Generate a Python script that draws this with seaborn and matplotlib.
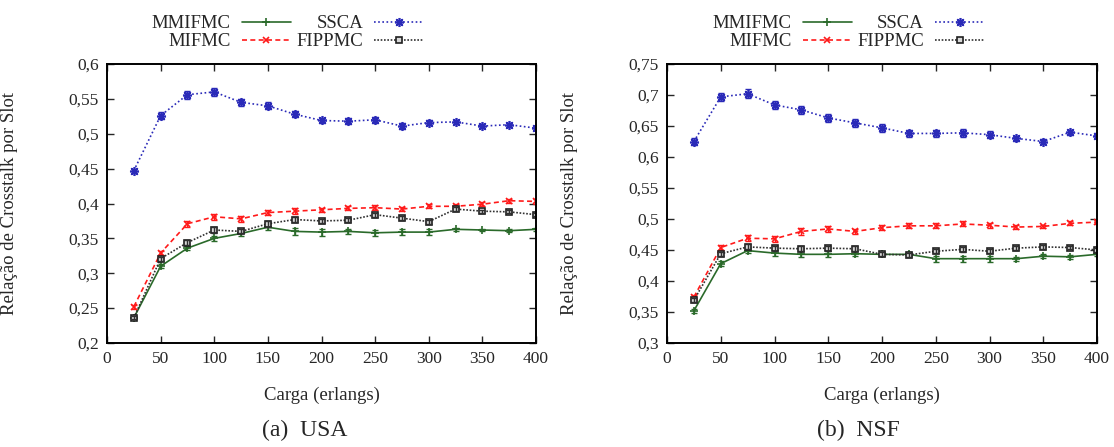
#!/usr/bin/env python3
"""Crosstalk ratio per slot vs. load for the USA and NSF topologies."""

import matplotlib

matplotlib.use("Agg")

import matplotlib.pyplot as plt
import pandas as pd
import seaborn as sns
from matplotlib.lines import Line2D
from matplotlib.ticker import FuncFormatter, MultipleLocator

LOADS = [25, 50, 75, 100, 125, 150, 175, 200, 225, 250, 275, 300, 325, 350, 375, 400]
ALGORITHMS = ["MMIFMC", "MIFMC", "SSCA", "FIPPMC"]
SERIF = ["Liberation Serif", "DejaVu Serif"]

# USA
mmifmc_usa = [0.236, 0.310, 0.336, 0.350, 0.357, 0.366, 0.360, 0.359, 0.360, 0.358, 0.359, 0.359, 0.363, 0.362, 0.361, 0.363]
mifmc_usa = [0.252, 0.329, 0.371, 0.381, 0.378, 0.387, 0.389, 0.391, 0.393, 0.394, 0.392, 0.396, 0.396, 0.399, 0.404, 0.403]
ssca_usa = [0.447, 0.526, 0.556, 0.560, 0.545, 0.540, 0.528, 0.519, 0.518, 0.520, 0.511, 0.516, 0.517, 0.511, 0.513, 0.508]
fippmc_usa = [0.236, 0.321, 0.344, 0.362, 0.360, 0.371, 0.377, 0.375, 0.376, 0.384, 0.379, 0.374, 0.392, 0.389, 0.388, 0.384]

mmifmc_usa_err = [0.002, 0.003, 0.003, 0.004, 0.003, 0.004, 0.005, 0.005, 0.004, 0.004, 0.004, 0.004, 0.002, 0.002, 0.002, 0.002]
mifmc_usa_err = [0.003, 0.003, 0.004, 0.004, 0.004, 0.004, 0.004, 0.003, 0.003, 0.004, 0.003, 0.003, 0.003, 0.003, 0.003, 0.003]
ssca_usa_err = [0.003, 0.005, 0.006, 0.006, 0.005, 0.005, 0.004, 0.004, 0.004, 0.004, 0.004, 0.004, 0.003, 0.003, 0.003, 0.003]
fippmc_usa_err = [0.002, 0.003, 0.003, 0.004, 0.003, 0.004, 0.003, 0.003, 0.003, 0.003, 0.003, 0.003, 0.003, 0.002, 0.002, 0.002]

# NSF
mmifmc_nsf = [0.352, 0.428, 0.449, 0.445, 0.443, 0.443, 0.444, 0.443, 0.443, 0.436, 0.436, 0.436, 0.436, 0.440, 0.439, 0.443]
mifmc_nsf = [0.374, 0.454, 0.469, 0.468, 0.480, 0.484, 0.480, 0.486, 0.489, 0.489, 0.492, 0.490, 0.487, 0.488, 0.493, 0.495]
ssca_nsf = [0.625, 0.697, 0.702, 0.684, 0.676, 0.663, 0.655, 0.647, 0.638, 0.638, 0.639, 0.636, 0.630, 0.625, 0.640, 0.634]
fippmc_nsf = [0.369, 0.444, 0.455, 0.453, 0.452, 0.453, 0.452, 0.443, 0.442, 0.448, 0.451, 0.448, 0.453, 0.455, 0.454, 0.450]

mmifmc_nsf_err = [0.003, 0.004, 0.004, 0.005, 0.005, 0.005, 0.004, 0.003, 0.003, 0.005, 0.005, 0.005, 0.003, 0.003, 0.003, 0.003]
mifmc_nsf_err = [0.004, 0.004, 0.005, 0.005, 0.005, 0.005, 0.004, 0.004, 0.004, 0.004, 0.004, 0.004, 0.003, 0.003, 0.003, 0.003]
ssca_nsf_err = [0.006, 0.006, 0.007, 0.006, 0.006, 0.006, 0.006, 0.006, 0.006, 0.005, 0.006, 0.006, 0.004, 0.004, 0.004, 0.004]
fippmc_nsf_err = [0.003, 0.003, 0.004, 0.004, 0.004, 0.004, 0.004, 0.003, 0.003, 0.003, 0.004, 0.003, 0.003, 0.003, 0.003, 0.003]

STYLES = {
    "MMIFMC": dict(color="#2a6a2a", ls="-", marker="+", ms=6, mfc="#2a6a2a", mec="#2a6a2a"),
    "MIFMC": dict(color="#ff1a1a", ls=(0, (3, 2)), marker="x", ms=5, mfc="#ff1a1a", mec="#ff1a1a"),
    "SSCA": dict(color="#2a2ab8", ls=(0, (1, 1.5)), marker=(8, 2, 0), ms=6.5, mfc="#2a2ab8", mec="#2a2ab8"),
    "FIPPMC": dict(color="#303030", ls=(0, (1, 1)), marker="s", ms=5, mfc="#d8d8d8", mec="#202020"),
}


def long_form(values: dict, errors: dict) -> pd.DataFrame:
    rows = []
    for name in ALGORITHMS:
        for load, val, err in zip(LOADS, values[name], errors[name]):
            rows.append({"algorithm": name, "load": load, "ratio": val, "err": err})
    return pd.DataFrame(rows)


def comma(x, _pos):
    return f"{x:.2f}".rstrip("0").replace(".", ",")


def draw_panel(ax, data, ylim, caption_x, caption):
    for name in ALGORITHMS:
        sub = data[data["algorithm"] == name]
        st = STYLES[name]
        sns.lineplot(
            data=sub, x="load", y="ratio", ax=ax, color=st["color"], linestyle=st["ls"],
            marker=st["marker"], markersize=st["ms"], markerfacecolor=st["mfc"],
            markeredgecolor=st["mec"], markeredgewidth=1.2, linewidth=1.2,
            errorbar=None, legend=False,
        )
        ax.errorbar(sub["load"], sub["ratio"], yerr=sub["err"], fmt="none",
                    ecolor=st["color"], elinewidth=1.0, capsize=2.5, capthick=1.0)
    ax.set_xlim(0, 400)
    ax.set_ylim(*ylim)
    ax.xaxis.set_major_locator(MultipleLocator(50))
    ax.yaxis.set_major_locator(MultipleLocator(0.05))
    ax.yaxis.set_major_formatter(FuncFormatter(comma))
    ax.tick_params(direction="in", length=5, width=1.0, top=True, right=True, labelsize=12.5, pad=6)
    for lab in ax.get_xticklabels() + ax.get_yticklabels():
        lab.set_fontfamily(SERIF)
    for sp in ax.spines.values():
        sp.set_visible(True)
        sp.set_linewidth(1.4)
        sp.set_color("black")
    ax.set_xlabel("Carga (erlangs)", fontsize=13.5)
    ax.set_ylabel("Relação de Crosstalk por Slot", fontsize=13.5)
    ax.xaxis.set_label_coords(0.5, -0.158)
    ax.yaxis.set_label_coords(-0.207, 0.5)

    handles = []
    for name in ALGORITHMS:
        st = STYLES[name]
        handles.append(Line2D([], [], color=st["color"], ls=st["ls"], marker=st["marker"],
                              ms=st["ms"], mfc=st["mfc"], mec=st["mec"], mew=1.2, lw=1.2))
    ax.legend(handles, ALGORITHMS, ncol=2, loc="upper right", bbox_to_anchor=(0.737, 1.175),
              frameon=False, markerfirst=False, numpoints=1, fontsize=13.5, handlelength=2.6,
              handletextpad=0.6, columnspacing=0.3, labelspacing=0.05, borderpad=0,
              borderaxespad=0)
    ax.figure.text(caption_x, 1 - 430 / 447, caption, ha="center", va="center", fontsize=17)


def main() -> int:
    sns.set_style("ticks")
    plt.rcParams["font.family"] = SERIF
    plt.rcParams["font.serif"] = SERIF

    usa = long_form(
        {"MMIFMC": mmifmc_usa, "MIFMC": mifmc_usa, "SSCA": ssca_usa, "FIPPMC": fippmc_usa},
        {"MMIFMC": mmifmc_usa_err, "MIFMC": mifmc_usa_err, "SSCA": ssca_usa_err, "FIPPMC": fippmc_usa_err},
    )
    nsf = long_form(
        {"MMIFMC": mmifmc_nsf, "MIFMC": mifmc_nsf, "SSCA": ssca_nsf, "FIPPMC": fippmc_nsf},
        {"MMIFMC": mmifmc_nsf_err, "MIFMC": mifmc_nsf_err, "SSCA": ssca_nsf_err, "FIPPMC": fippmc_nsf_err},
    )

    fig = plt.figure(figsize=(11.14, 4.47), dpi=100)
    bottom = (447 - 343) / 447
    height = (343 - 64) / 447
    ax1 = fig.add_axes([107 / 1114, bottom, 429 / 1114, height])
    ax2 = fig.add_axes([667 / 1114, bottom, 430 / 1114, height])

    draw_panel(ax1, usa, (0.2, 0.6), 305 / 1114, "(a)  USA")
    draw_panel(ax2, nsf, (0.3, 0.75), 858 / 1114, "(b)  NSF")

    fig.savefig("out.png", dpi=100)
    plt.close(fig)
    return 0


if __name__ == "__main__":
    raise SystemExit(main())
